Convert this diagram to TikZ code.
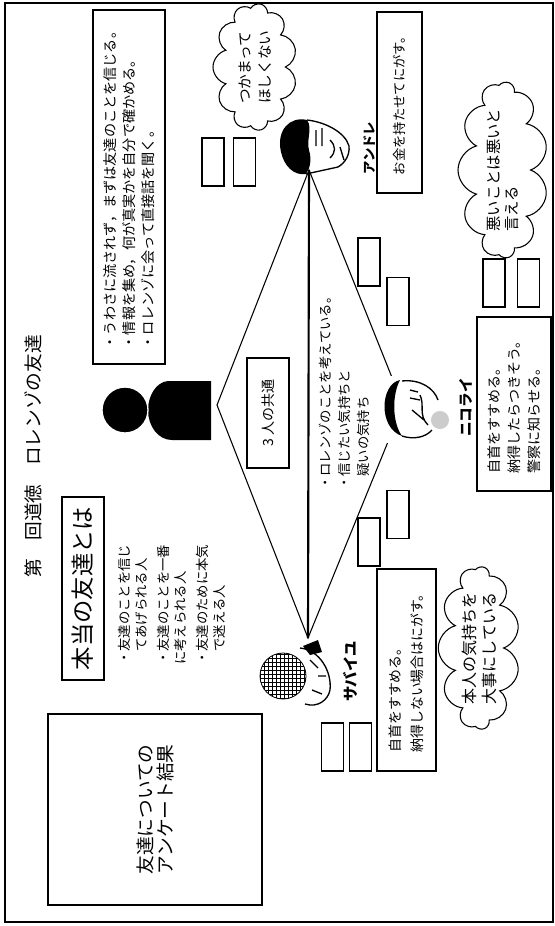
\documentclass[tikz,border=0pt]{standalone}
\usepackage{fontspec}
\setmainfont{Noto Sans CJK JP}
\usetikzlibrary{shapes.symbols,patterns}

\tikzstyle{line}=[-, line width=0.8pt]
\tikzstyle{vtext}=[rotate=90, anchor=west, align=left, inner sep=0pt]
\tikzstyle{memo}=[draw, line width=0.9pt, rotate=90, align=left, inner sep=0pt]
\tikzstyle{slot}=[draw, line width=0.9pt, inner sep=0pt, minimum width=16.5pt, minimum height=36pt]
\tikzstyle{bubble}=[cloud, draw, line width=0.8pt, cloud puffs=11, cloud ignores aspect, rotate=90, align=left, inner sep=0pt]
\tikzstyle{who}=[rotate=90, anchor=west, inner sep=0pt]

\newcommand\setsz[2]{\fontsize{#1}{#2}\selectfont}

\begin{document}
\begin{tikzpicture}[x=0.75pt, y=-0.75pt]
    \useasboundingbox (0,0) rectangle (555,926);
    \draw[line width=1pt] (5,3) rectangle (553,922);

    % left column: title, question box, survey box
    \node (title) at (33,578) [vtext, font=\setsz{14}{14}] {第　回道徳　ロレンゾの友達};
    \node (true friend) at (83,588.5) [memo, minimum width=137.25pt, minimum height=31.5pt, font=\setsz{17.5}{17.5}] {本当の友達とは};
    \node (friend list) at (172,665) [vtext, font=\setsz{10}{12.75}] {・友達のことを信じ\\　てあげられる人\\[3.5pt]・友達のことを一番\\に考えられる人\\[3.5pt]・友達のために本気\\　で迷える人};
    \node (survey) at (155,809.5) [memo, align=center, minimum width=143.25pt, minimum height=160.5pt, font=\setsz{14}{15}] {友達についての\\アンケート結果};

    % what Lorenzo does
    \node (lorenzo memo) at (129,187) [memo, minimum width=265.5pt, minimum height=54pt, font=\setsz{10.6}{14.25}] {・うわさに流されず，まずは友達のことを信じる。\\・情報を集め，何が真実かを自分で確かめる。\\・ロレンゾに会って直接話を聞く。};

    % Lorenzo
    \fill (211,381) -- (168,381) .. controls (156,382) and (148,396) .. (148,410) .. controls (148,426) and (158,440) .. (172,440) -- (211,440) -- cycle;
    \filldraw[draw=white, line width=1pt] (125,410) circle (23);

    % the three friends
    \coordinate (kiteL) at (217,405);
    \coordinate (kiteT) at (309,170);
    \coordinate (kiteB) at (308,638);
    \coordinate (kiteR) at (403,405);
    \draw[line] (kiteT) -- (kiteL) -- (kiteB) -- (kiteR) -- cycle;
    \draw[line width=1.6pt] (kiteT) -- (kiteB);

    \node (common) at (268,413) [memo, align=center, minimum width=82.5pt, minimum height=31.5pt, font=\setsz{10.5}{10.5}] {3 人の共通};
    \node (common list) at (344,490) [vtext, font=\setsz{10}{14.25}] {・ロレンゾのことを考えている。\\・信じたい気持ちと\\　疑いの気持ち};

    % Andre
    \fill (281,152) .. controls (276,130) and (290,116) .. (307,120) .. controls (313,128) and (306,140) .. (309,150) .. controls (312,160) and (310,168) .. (306,174) .. controls (294,176) and (284,166) .. (281,152) -- cycle;
    \draw[line width=1pt] (307,120) .. controls (325,122) and (345,132) .. (349,146) .. controls (350,155) and (345,163) .. (338,167) -- (306,174);
    \draw[line width=1pt] (316,130) -- (316,146) (322,128) -- (322,146) (330,140) .. controls (336,146) and (336,152) .. (330,158) (340,147) -- (344,160);
    \node (andre) at (370,175) [who, font=\setsz{10}{10}\bfseries] {アンドレ};
    \node (andre memo) at (399.5,102.5) [memo, align=center, minimum width=135.75pt, minimum height=33.75pt, font=\setsz{10}{10}] {お金を持たせてにがす。};

    % Sabaiyu
    \filldraw[pattern=grid, line width=0.6pt] (283,676) circle (23);
    \draw[line width=1pt] (300,648) .. controls (320,650) and (332,672) .. (330,690) .. controls (328,700) and (318,708) .. (305,704);
    \draw[line width=1pt] (310,660) -- (318,668) (318,676) -- (326,676) (312,690) -- (322,694);
    \fill (303,646) -- (318,640) -- (322,652) -- (310,655) -- cycle;
    \node (sabaiyu) at (350,702) [who, font=\setsz{11.5}{11.5}\bfseries] {サバイユ};
    \node (sabaiyu memo) at (406.5,670) [memo, minimum width=151.5pt, minimum height=44.25pt, font=\setsz{10.4}{16.5}] {自首をすすめる。\\納得しない場合はにがす。};

    % Nikolai
    \fill[white] (377,376) rectangle (476,443);
    \fill (400,380) .. controls (380,384) and (378,428) .. (402,436) .. controls (392,422) and (392,395) .. (400,380) -- cycle;
    \draw[line width=1pt] (402,381) .. controls (420,379) and (434,388) .. (438,400);
    \draw[line width=1pt] (402,436) .. controls (414,440) and (426,437) .. (432,430);
    \draw[line width=1pt] (410,390) -- (418,392) (410,398) -- (420,400) (420,395) .. controls (425,405) and (418,415) .. (428,425) (412,410) -- (424,420);
    \fill[gray!40] (440,420) circle (9);
    \node (nikolai) at (466,437) [who, font=\setsz{11}{11}\bfseries] {ニコライ};
    \node (nikolai memo) at (514,404) [memo, minimum width=130.5pt, minimum height=55.5pt, font=\setsz{10.5}{15}] {自首をすすめる。\\納得したらつきそう。\\警察に知らせる。};

    % thought clouds
    \node (andre cloud) at (255,67) [bubble, minimum width=95.25pt, minimum height=63pt, font=\setsz{11}{15}] {つかまって\\ほしくない};
    \node (nikolai cloud) at (503,170) [bubble, minimum width=116.25pt, minimum height=67.5pt, font=\setsz{11.5}{13.5}] {悪いことは悪いと\\言える};
    \node (sabaiyu cloud) at (479,648) [bubble, minimum width=112.5pt, minimum height=51pt, font=\setsz{12}{15}] {本人の気持ちを\\大事にしている};

    % empty slots
    \node (slot a1) at (213,162) [slot] {};
    \node (slot a2) at (244.5,162) [slot] {};
    \node (slot n1) at (369,262) [slot] {};
    \node (slot n2) at (398,301.5) [slot] {};
    \node (slot n3) at (398,514.5) [slot] {};
    \node (slot n4) at (369,542) [slot] {};
    \node (slot c1) at (494,283) [slot] {};
    \node (slot c2) at (528.5,283) [slot] {};
    \node (slot s1) at (332.5,747) [slot] {};
    \node (slot s2) at (360.5,747) [slot] {};
\end{tikzpicture}
\end{document}
